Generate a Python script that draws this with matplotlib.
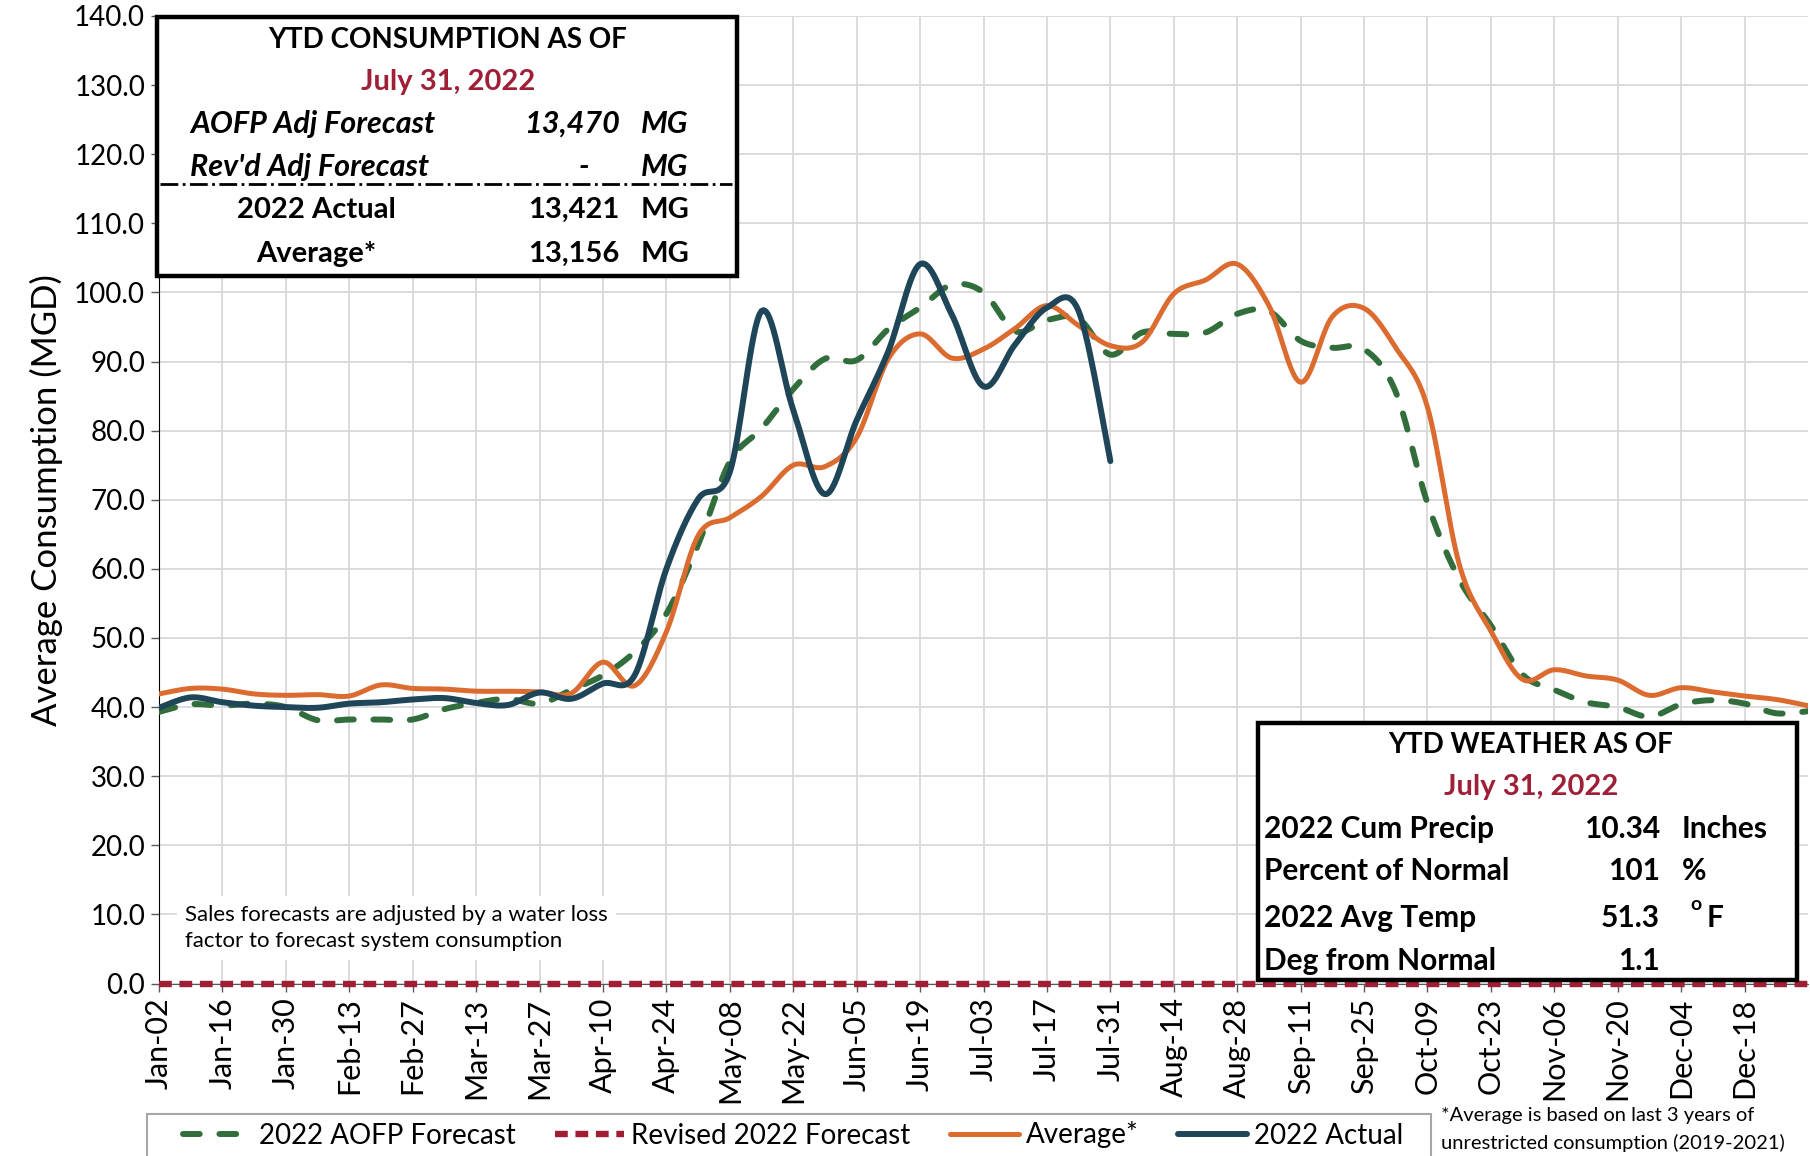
import numpy as np
import pandas as pd
import matplotlib
matplotlib.use("Agg")
import matplotlib.pyplot as plt
from matplotlib.patches import Rectangle
from matplotlib.lines import Line2D

plt.rcParams['font.family'] = ['Lato', 'DejaVu Sans']

# weekly data, Jan-02 2022 .. Jan-01 2023
weeks = pd.date_range('2022-01-02', periods=53, freq='7D').strftime('%b-%d').tolist()

aofp = [39.3, 40.4, 40.2, 40.5, 40.0, 38.1, 38.2, 38.2, 38.2, 39.7, 40.6, 41.2, 40.5,
        42.5, 44.6, 48.0, 53.5, 63.5, 75.5, 80.3, 86.0, 90.4, 90.2, 94.7, 97.8, 101.1,
        100.0, 94.4, 96.0, 96.2, 91.0, 94.2, 94.0, 94.2, 96.9, 97.3, 93.0, 92.0, 91.8,
        85.6, 69.5, 58.5, 51.8, 44.7, 42.5, 40.7, 40.0, 38.6, 40.4, 41.0, 40.5, 39.1, 39.4]
revised = [0.0] * 53
average = [41.9, 42.7, 42.6, 41.9, 41.7, 41.8, 41.6, 43.2, 42.7, 42.6, 42.3, 42.3, 42.2,
           42.0, 46.5, 43.1, 50.9, 64.8, 67.4, 70.5, 75.0, 74.8, 79.0, 90.4, 94.0, 90.5,
           91.8, 94.8, 98.1, 95.2, 92.3, 92.8, 99.8, 101.8, 104.1, 98.1, 87.0, 96.5, 97.7,
           92.0, 83.4, 60.7, 51.0, 44.0, 45.4, 44.5, 43.9, 41.7, 42.8, 42.2, 41.6, 41.1, 40.2]
actual = [39.9, 41.4, 40.7, 40.2, 40.0, 39.9, 40.5, 40.7, 41.1, 41.3, 40.6, 40.3, 42.1,
          41.2, 43.4, 44.6, 60.0, 70.1, 74.0, 97.3, 83.0, 70.8, 81.5, 91.5, 104.1, 96.8,
          86.4, 92.5, 97.8, 97.3, 75.6]

cons_rows = [("AOFP Adj Forecast", "13,470", "MG"), ("Rev'd Adj Forecast", "-", "MG"),
             ("2022 Actual", "13,421", "MG"), ("Average*", "13,156", "MG")]
wx_rows = [("2022 Cum Precip", "10.34", "Inches"), ("Percent of Normal", "101", "%"),
           ("2022 Avg Temp", "51.3", "F"), ("Deg from Normal", "1.1", "")]

GREEN = '#326E3C'
RED = '#A01E34'
ORANGE = '#DC6B2F'
NAVY = '#1F4558'
DARKRED = '#9E1F36'

W, H = 1810, 1156


def fx(px):
    return px / W


def fy(py):
    return 1 - py / H


def smooth(y, n=16):
    # excel style smoothed line (bezier through the points)
    p = np.column_stack([np.arange(len(y)), np.asarray(y, float)])
    p = np.vstack([p[0], p, p[-1]])
    t = np.linspace(0, 1, n, endpoint=False)[:, None]
    out = []
    for i in range(1, len(p) - 2):
        p0, p1, p2, p3 = p[i - 1], p[i], p[i + 1], p[i + 2]
        c1 = p1 + (p2 - p0) / 6
        c2 = p2 - (p3 - p1) / 6
        out.append((1 - t) ** 3 * p1 + 3 * (1 - t) ** 2 * t * c1 + 3 * (1 - t) * t ** 2 * c2 + t ** 3 * p2)
    out.append(p[-2][None])
    pts = np.vstack(out)
    return pts[:, 0], pts[:, 1]


fig = plt.figure(figsize=(W / 100, H / 100), dpi=100)
ax = fig.add_axes([fx(159), fy(983.5), fx(1808) - fx(159), fy(16) - fy(983.5)])

ax.plot(*smooth(aofp), color=GREEN, lw=4.3, ls=(0, (2.8, 3.3)), dash_capstyle='round',
        label='2022 AOFP Forecast', zorder=3)
ax.plot(*smooth(revised), color=RED, lw=4.6, ls=(0, (2.0, 1.2)), dash_capstyle='butt',
        label='Revised 2022 Forecast', zorder=4, clip_on=False)
ax.plot(*smooth(average), color=ORANGE, lw=3.6, label='Average*', zorder=3,
        solid_capstyle='round')
ax.plot(*smooth(actual), color=NAVY, lw=4.3, label='2022 Actual', zorder=3,
        solid_capstyle='round')

ax.set_xlim(0, 52)
ax.set_ylim(0, 140)
ax.set_yticks(np.arange(0, 141, 10))
ax.set_yticklabels([f"{v:.1f}" for v in np.arange(0, 141, 10)], fontsize=20)
xt = list(range(0, 51, 2))
ax.set_xticks(xt)
ax.set_xticklabels([weeks[i] for i in xt], rotation=90, fontsize=22)
ax.tick_params(axis='both', direction='out', length=6, width=1, color='#595959', pad=4)
ax.grid(True, color='#D9D9D9', lw=1.3, zorder=0)
ax.set_axisbelow(True)
for s in ['top', 'right']:
    ax.spines[s].set_visible(False)
ax.spines['left'].set_color('black')
ax.spines['bottom'].set_color('#595959')
ax.set_ylabel('Average Consumption (MGD)', fontsize=25, labelpad=8)

fig.text(fx(185), fy(928), "Sales forecasts are adjusted by a water loss\nfactor to forecast system consumption",
         fontsize=16, va='center', ha='left', linespacing=1.4,
         bbox=dict(facecolor='white', edgecolor='none', pad=6))

# consumption box
fig.patches.append(Rectangle((fx(157), fy(276)), fx(737) - fx(157), fy(17) - fy(276),
                             transform=fig.transFigure, facecolor='white', edgecolor='black',
                             lw=3.2, zorder=5))
fig.lines.append(Line2D([fx(160), fx(732)], [fy(184), fy(184)], transform=fig.transFigure,
                        color='black', lw=2, ls='-.', zorder=6))
fig.text(fx(448), fy(40), "YTD CONSUMPTION AS OF", ha='center', va='center', fontsize=20,
         fontweight='bold', zorder=7)
fig.text(fx(448), fy(82), "July 31, 2022", ha='center', va='center', fontsize=21,
         fontweight='bold', color=DARKRED, zorder=7)
ys = [124, 167, 210, 254]
for k, (lab, val, unit) in enumerate(cons_rows):
    style = 'italic' if k < 2 else 'normal'
    fs = 22 if k < 2 else 21
    if k < 2:
        fig.text(fx(190), fy(ys[k]), lab, ha='left', va='center', fontsize=fs,
                 fontweight='bold', fontstyle=style, zorder=7)
    else:
        fig.text(fx(316), fy(ys[k]), lab, ha='center', va='center', fontsize=fs,
                 fontweight='bold', zorder=7)
    if val == '-':
        fig.text(fx(584), fy(ys[k]), val, ha='center', va='center', fontsize=fs,
                 fontweight='bold', fontstyle=style, zorder=7)
    else:
        fig.text(fx(620), fy(ys[k]), val, ha='right', va='center', fontsize=fs,
                 fontweight='bold', fontstyle=style, zorder=7)
    fig.text(fx(641), fy(ys[k]), unit, ha='left', va='center', fontsize=fs,
             fontweight='bold', fontstyle=style, zorder=7)

# weather box
fig.patches.append(Rectangle((fx(1258), fy(980)), fx(1797) - fx(1258), fy(723) - fy(980),
                             transform=fig.transFigure, facecolor='white', edgecolor='black',
                             lw=3.2, zorder=5))
fig.text(fx(1531), fy(745), "YTD WEATHER AS OF", ha='center', va='center', fontsize=20,
         fontweight='bold', zorder=7)
fig.text(fx(1531), fy(787), "July 31, 2022", ha='center', va='center', fontsize=21,
         fontweight='bold', color=DARKRED, zorder=7)
wy = [829, 871, 918, 961]
for k, (lab, val, unit) in enumerate(wx_rows):
    fig.text(fx(1264), fy(wy[k]), lab, ha='left', va='center', fontsize=21.5,
             fontweight='bold', zorder=7)
    fig.text(fx(1660), fy(wy[k]), val, ha='right', va='center', fontsize=21.5,
             fontweight='bold', zorder=7)
    ux = 1707 if unit == 'F' else 1682
    fig.text(fx(ux), fy(wy[k]), unit, ha='left', va='center', fontsize=21.5,
             fontweight='bold', zorder=7)
fig.text(fx(1690), fy(905), "o", ha='left', va='center', fontsize=14, fontweight='bold', zorder=7)

# legend
fig.patches.append(Rectangle((fx(147), fy(1170)), fx(1431) - fx(147), fy(1114) - fy(1170),
                             transform=fig.transFigure, facecolor='white', edgecolor='#A6A6A6',
                             lw=1.5, zorder=1))
fig.legend(loc='center left', bbox_to_anchor=(fx(183), fy(1135)), ncol=4, frameon=False,
           fontsize=20, handlelength=2.5, handletextpad=0.25, columnspacing=1.4,
           borderpad=0, borderaxespad=0)

fig.text(fx(1441), fy(1115), "*Average is based on last 3 years of", fontsize=14.5,
         ha='left', va='center')
fig.text(fx(1441), fy(1143), "unrestricted consumption (2019-2021)", fontsize=14.5,
         ha='left', va='center')

fig.savefig('out.png', dpi=100)
